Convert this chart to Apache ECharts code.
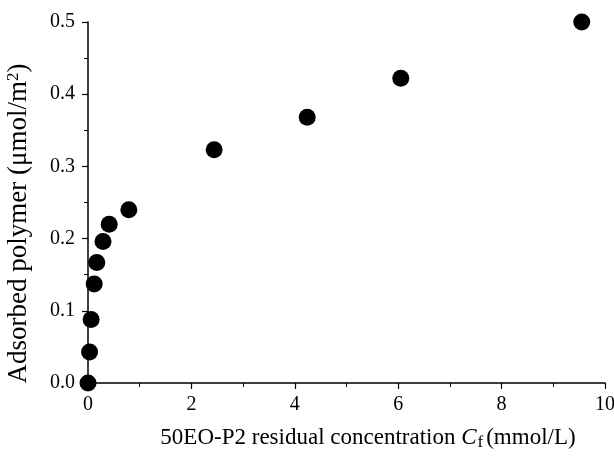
<!DOCTYPE html>
<html>
	<head>
		<meta charset="utf-8">
		<title>Adsorption isotherm</title>
		<style>
			html, body {
				width: 100%;
				height: 100%;
				margin: 0;
				padding: 0;
				background: #fff;
			}
			#main {
				width: 614px;
				height: 456px;
			}
		</style>
	</head>
	<body>
		<div id="main"></div>
		<script src="https://cdn.jsdelivr.net/npm/echarts@6/dist/echarts.min.js"></script>
		<script>
			// residual concentration Cf (mmol/L) and adsorbed amount (umol/m2)
			var cf = [0, 0.03, 0.06, 0.12, 0.17, 0.29, 0.41, 0.79, 2.44, 4.24, 6.05, 9.55];
			var adsorbed = [0, 0.043, 0.088, 0.137, 0.167, 0.196, 0.22, 0.24, 0.323, 0.368, 0.422, 0.5];

			var points = [];
			for (var i = 0; i < cf.length; i++) {
				points.push([cf[i], adsorbed[i]]);
			}

			var font = 'Liberation Serif';
			var chart = echarts.init(document.getElementById('main'), null, {renderer: 'canvas'});
			chart.setOption({
				animation: false,
				backgroundColor: '#fff',
				textStyle: {fontFamily: font, color: '#000'},
				grid: {left: 88, right: 9, top: 22, bottom: 73, outerBoundsMode: 'none'},
				xAxis: {
					type: 'value',
					min: 0,
					max: 10,
					interval: 2,
					name: '{n|50EO-P2 residual concentration }{i|C}{s|f}{n|(mmol/L)}',
					nameLocation: 'middle',
					nameGap: 41,
					nameTextStyle: {
						padding: [0, 0, 0, 43],
						rich: {
							n: {fontFamily: font, fontSize: 23, color: '#000'},
							i: {fontFamily: font, fontSize: 23, fontStyle: 'italic', color: '#000'},
							s: {fontFamily: font, fontSize: 17, color: '#000', verticalAlign: 'bottom', padding: [10, 3, 0, 1]}
						}
					},
					axisLine: {lineStyle: {color: '#000', width: 1.5}},
					axisTick: {length: 6, lineStyle: {color: '#000', width: 1.2}},
					minorTick: {show: true, splitNumber: 2, length: 4, lineStyle: {color: '#000', width: 1}},
					axisLabel: {fontFamily: font, fontSize: 20, color: '#000', margin: 12},
					splitLine: {show: false}
				},
				yAxis: {
					type: 'value',
					min: 0,
					max: 0.5,
					interval: 0.1,
					name: '{n|Adsorbed polymer (μmol/m}{s|2}{n|)}',
					nameLocation: 'middle',
					nameGap: 55,
					nameRotate: 90,
					nameTextStyle: {
						padding: [0, 42, 0, 0],
						rich: {
							n: {fontFamily: font, fontSize: 27, color: '#000'},
							s: {fontFamily: font, fontSize: 17, color: '#000', verticalAlign: 'top', padding: [0, 0, 11, 0]}
						}
					},
					axisLine: {show: true, lineStyle: {color: '#000', width: 1.5}},
					axisTick: {show: true, length: 6, lineStyle: {color: '#000', width: 1.2}},
					minorTick: {show: true, splitNumber: 2, length: 4, lineStyle: {color: '#000', width: 1}},
					axisLabel: {
						fontFamily: font,
						fontSize: 20,
						color: '#000',
						margin: 13,
						formatter: function(v) {
							return v.toFixed(1);
						}
					},
					splitLine: {show: false}
				},
				series: [{
					type: 'scatter',
					data: points,
					symbol: 'circle',
					symbolSize: 17,
					itemStyle: {color: '#000', opacity: 1},
					clip: false
				}]
			});
		</script>
	</body>
</html>
